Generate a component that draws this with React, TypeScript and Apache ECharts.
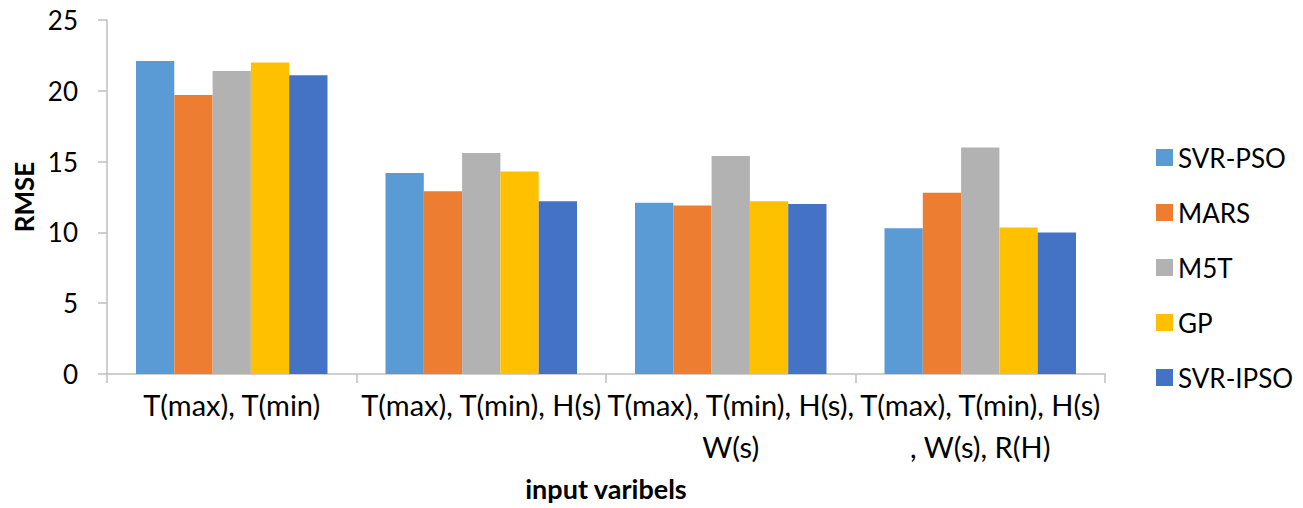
import React, { useEffect, useRef } from "react";
import * as echarts from "echarts";

const categories = [
  "T(max), T(min)",
  "T(max), T(min), H(s)",
  "T(max), T(min), H(s),\nW(s)",
  "T(max), T(min), H(s)\n, W(s), R(H)",
];
const seriesNames = ["SVR-PSO", "MARS", "M5T", "GP", "SVR-IPSO"];
const svrPso = [22.1, 14.2, 12.1, 10.3];
const mars = [19.7, 12.9, 11.9, 12.8];
const m5t = [21.4, 15.6, 15.4, 16.0];
const gp = [22.0, 14.3, 12.2, 10.35];
const svrIpso = [21.1, 12.2, 12.0, 10.0];
const colors = ["#5B9BD5", "#ED7D31", "#B2B2B2", "#FFC000", "#4472C4"];
const yTicks = { min: 0, max: 25, interval: 5 };

const FONT = "Lato";

export default function App() {
  const ref = useRef<HTMLDivElement>(null);
  useEffect(() => {
    document.body.style.margin = "0";
    const chart = echarts.init(ref.current!, null, { renderer: "svg" });
    const values = [svrPso, mars, m5t, gp, svrIpso];
    chart.setOption({
      animation: false,
      backgroundColor: "#ffffff",
      textStyle: { fontFamily: FONT },
      grid: { left: 107, right: 198, top: 20, bottom: 134, containLabel: false, outerBoundsMode: "none" },
      legend: {
        orient: "vertical",
        left: 1151,
        top: 137,
        icon: "rect",
        itemWidth: 17,
        itemHeight: 17,
        itemGap: 24,
        data: seriesNames,
        textStyle: { fontSize: 26, color: "#000", fontFamily: FONT, lineHeight: 31 },
      },
      xAxis: {
        type: "category",
        data: categories,
        name: "input varibels",
        nameLocation: "middle",
        nameGap: 101,
        nameTextStyle: { fontSize: 27, fontWeight: "bold", color: "#000", fontFamily: FONT, lineHeight: 27 },
        axisLine: { lineStyle: { color: "#BFBFBF", width: 1.5 } },
        axisTick: { show: true, length: 9, lineStyle: { color: "#BFBFBF", width: 1.5 } },
        axisLabel: { fontSize: 29, color: "#000", margin: 9, lineHeight: 42, interval: 0, fontFamily: FONT },
      },
      yAxis: {
        type: "value",
        min: yTicks.min,
        max: yTicks.max,
        interval: yTicks.interval,
        name: "RMSE",
        nameLocation: "middle",
        nameGap: 68,
        nameRotate: 90,
        nameTextStyle: { fontSize: 26, fontWeight: "bold", color: "#000", fontFamily: FONT },
        axisLine: { show: true, lineStyle: { color: "#BFBFBF", width: 1.5 } },
        axisTick: { show: true, length: 9, lineStyle: { color: "#BFBFBF", width: 1.5 } },
        splitLine: { show: false },
        axisLabel: { fontSize: 26, color: "#000", margin: 29, fontFamily: FONT },
      },
      series: seriesNames.map((name, i) => ({
        name,
        type: "bar",
        data: values[i],
        barWidth: 38.3,
        barGap: "0%",
        itemStyle: { color: colors[i] },
      })),
    });
    return () => chart.dispose();
  }, []);
  return <div ref={ref} style={{ width: 1303, height: 508 }} />;
}
